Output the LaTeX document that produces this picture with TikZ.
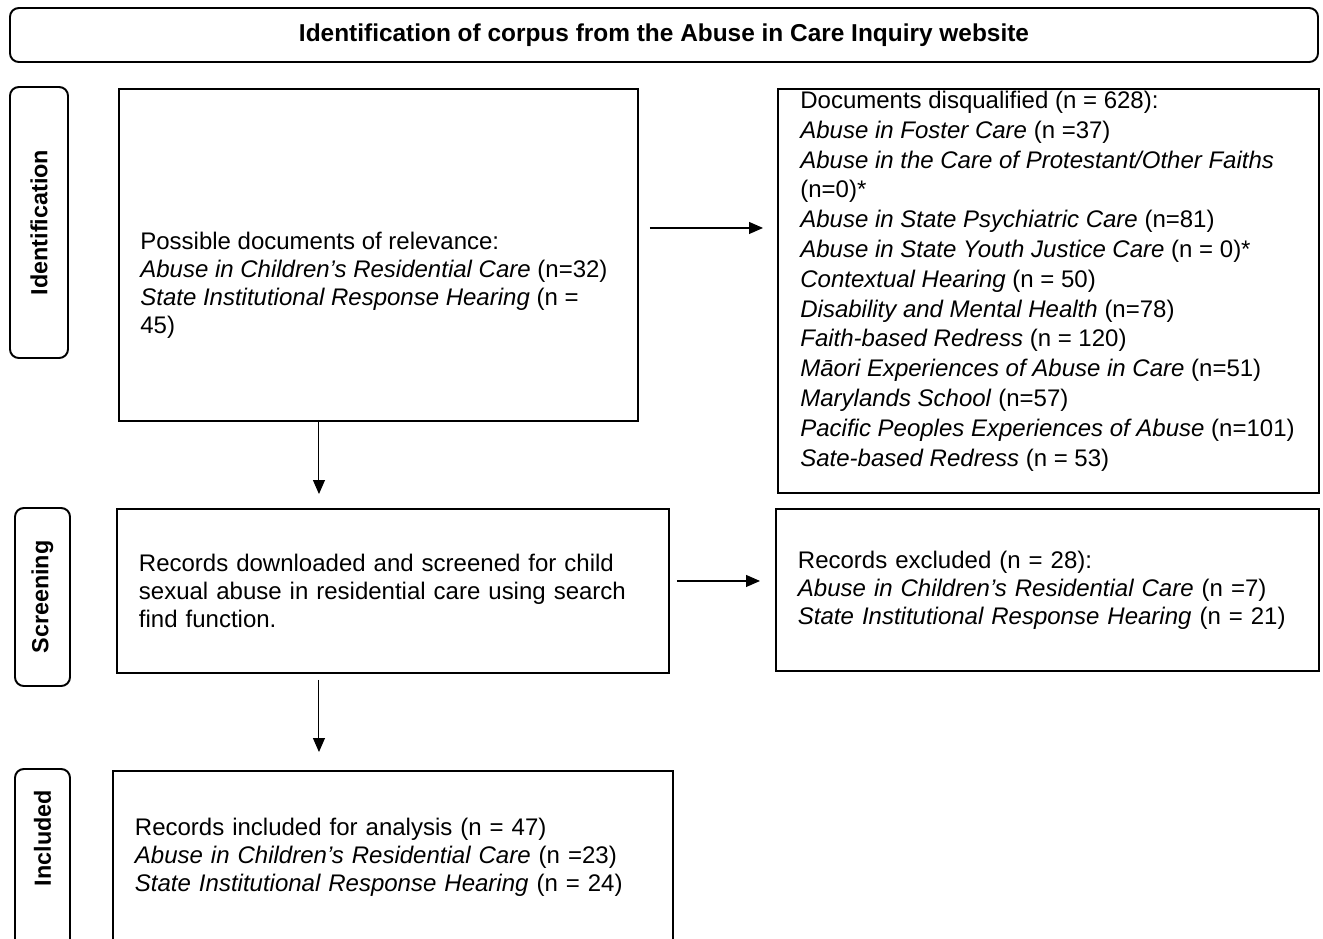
\documentclass[tikz,border=0pt]{standalone}
\usepackage{fontspec}
\setmainfont{Liberation Sans}
\usetikzlibrary{arrows.meta,positioning}
\newcommand{\dpx}{0.02cm}
\newcommand{\bodyfont}{\fontsize{13.66}{15.93}\selectfont}
\tikzset{
  box/.style={draw, line width=1.1pt, anchor=north west, align=left, font=\bodyfont, inner xsep=22*\dpx, inner ysep=0pt},
  stage/.style={draw, line width=1.1pt, rounded corners=5pt, rotate=90, font=\bfseries\fontsize{13.3}{16}\selectfont, inner sep=0pt},
  stagetxt/.style={rotate=90, font=\bfseries\fontsize{13.3}{16}\selectfont, inner sep=0pt},
  txt/.style={align=left, font=\bodyfont, inner sep=0pt},
  arr/.style={-{Triangle[length=2.8mm,width=2.4mm]}, line width=0.6pt},
}
\begin{document}
\begin{tikzpicture}[x=\dpx, y=-\dpx]
\useasboundingbox (0,0) rectangle (1323,938);
\clip (0,0) rectangle (1323,938);
% heading
\node[draw, line width=1.1pt, rounded corners=5pt, minimum width=1308*\dpx, minimum height=54*\dpx, font=\bfseries\fontsize{13.9}{16}\selectfont] (hd) at (664,35) {Identification of corpus from the Abuse in Care Inquiry website};
% stages
\node[stage, minimum width=271*\dpx, minimum height=58*\dpx] (idl) at (39,222.5) {Identification};
\node[stage, minimum width=178*\dpx, minimum height=55*\dpx] (scl) at (42.5,597) {Screening};
\node[stage, minimum width=191*\dpx, minimum height=55*\dpx] (inl) at (42.5,864.5) {};
\node[stagetxt] (inlt) at (42.5,838) {Included};
% identification
\node[box, text width=475*\dpx, minimum height=332*\dpx] (pos) at (118,88) {};
\node[txt, anchor=west] (post) at (140,285) {Possible documents of relevance:\\
\textit{Abuse in Children’s Residential Care} (n=32)\\
\textit{State Institutional Response Hearing} (n =\\
45)};
\node[box, text width=497*\dpx, minimum height=404*\dpx] (dis) at (777,88) {};
\node[txt, anchor=west, font=\fontsize{13.66}{16.96}\selectfont] (dist) at (800,281) {Documents disqualified (n = 628):\\
\textit{Abuse in Foster Care} (n =37)\\
\textit{Abuse in the Care of Protestant/Other Faiths}\\
(n=0)*\\
\textit{Abuse in State Psychiatric Care} (n=81)\\
\textit{Abuse in State Youth Justice Care} (n = 0)*\\
\textit{Contextual Hearing} (n = 50)\\
\textit{Disability and Mental Health} (n=78)\\
\textit{Faith-based Redress} (n = 120)\\
\textit{Māori Experiences of Abuse in Care} (n=51)\\
\textit{Marylands School} (n=57)\\
\textit{Pacific Peoples Experiences of Abuse} (n=101)\\
\textit{Sate-based Redress} (n = 53)};
% screening
\node[box, text width=508*\dpx, minimum height=164*\dpx] (scr) at (116,508) {Records downloaded and screened for child\\
sexual abuse in residential care using search\\
find function.};
\node[box, text width=499*\dpx, minimum height=162*\dpx] (exc) at (775,508) {Records excluded (n = 28):\\
\textit{Abuse in Children’s Residential Care} (n =7)\\
\textit{State Institutional Response Hearing} (n = 21)};
% included
\node[box, text width=516*\dpx, minimum height=172*\dpx] (inc) at (112,770) {Records included for analysis (n = 47)\\
\textit{Abuse in Children’s Residential Care} (n =23)\\
\textit{State Institutional Response Hearing} (n = 24)};
% arrows
\draw[arr, shorten <=11*\dpx, shorten >=14*\dpx] ([yshift=27*\dpx]pos.east) -- ([yshift=27*\dpx]pos.east -| dis.west);
\draw[arr, shorten >=14*\dpx] ([xshift=-59.5*\dpx]pos.south) -- ([xshift=-59.5*\dpx]pos.south |- scr.north);
\draw[arr, shorten <=7*\dpx, shorten >=15*\dpx] ([yshift=10*\dpx]scr.east) -- ([yshift=10*\dpx]scr.east -| exc.west);
\draw[arr, shorten <=6*\dpx, shorten >=18*\dpx] ([xshift=-74*\dpx]scr.south) -- ([xshift=-74*\dpx]scr.south |- inc.north);
\end{tikzpicture}
\end{document}
